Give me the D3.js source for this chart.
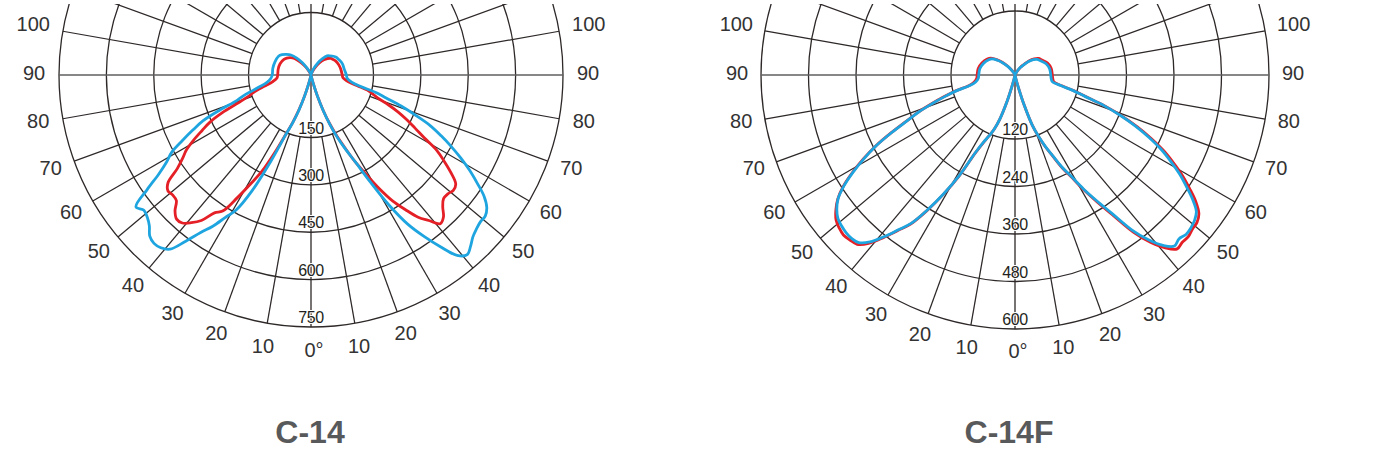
<!DOCTYPE html>
<html><head><meta charset="utf-8">
<script src="https://cdn.jsdelivr.net/npm/d3@7"></script>
<style>html,body{margin:0;padding:0;background:#fff;} svg{display:block}</style>
</head><body>
<svg id="chart" width="1400" height="454"></svg>
<script>
// Polar angles (degrees from nadir) at which the curves were read
const angles = [0,10,13,15,17,19,21,23,25,27,29,31,33,35,37,39,41,43,45,47,49,51,53,55,57,59,61,63,65,67,69,71,73,75,77,80,85,90,100,110,120,125,130,135,140,145,150,160,180];
const angleTicks = [0,10,20,30,40,50,60,70,80,90,100];
const spokeAngles = [10,20,30,40,50,60,70,80,100,110,120,130,140,150,160,170];

// C-14 (cd)
const c14Rings = [150,300,450,600,750];
const c14RedLeft   = [0,0,7,22,53,87,121,156,223,295,346,406,466,485,529,554,573,576,561,535,532,535,519,469,437,412,377,339,305,257,200,163,145,128,111,94,82,80,80,79,75,71,65,56,41,27,15,2,0];
const c14RedRight  = [0,0,7,22,53,90,126,163,207,261,311,371,428,472,516,545,576,567,542,526,526,532,526,494,456,418,362,321,286,251,213,175,156,140,114,90,77,75,73,71,68,65,62,56,48,36,24,7,0];
const c14BlueLeft  = [0,0,7,22,53,90,123,159,254,365,441,478,523,561,611,662,677,681,674,652,639,633,646,586,526,485,456,409,365,324,261,201,175,145,128,109,97,93,93,92,90,85,77,68,53,36,19,5,0];
const c14BlueRight = [0,0,7,22,53,92,128,169,213,261,339,434,516,576,633,687,706,693,677,668,662,662,649,621,579,538,494,450,406,362,305,254,201,163,121,99,87,85,81,80,76,74,70,65,60,48,34,12,0];

// C-14F (cd)
const c14fRings = [120,240,360,480,600];
const c14fRedLeft   = [0,0,8,23,56,88,109,125,146,180,251,311,367,418,450,487,522,543,548,551,547,540,525,505,476,438,397,353,303,256,220,180,145,115,88,78,72,71,70,66,60,55,45,34,22,12,6,0,0];
const c14fRedRight  = [0,0,8,23,60,100,126,156,185,222,254,298,342,392,455,502,537,559,556,557,552,550,540,516,484,452,416,380,338,294,247,198,145,115,90,74,71,70,69,65,57,54,47,38,25,18,8,0,0];
const c14fBlueLeft  = [0,0,8,23,56,88,109,125,145,178,249,309,365,416,448,484,517,537,542,542,539,534,522,504,474,436,395,352,302,254,219,178,143,113,86,75,69,68,67,63,57,53,43,32,21,11,6,0,0];
const c14fBlueRight = [0,0,8,23,60,100,125,155,183,219,251,294,337,385,448,494,529,549,544,549,547,542,532,506,474,443,408,373,332,289,244,196,143,113,88,71,68,67,66,62,54,51,45,36,24,17,8,0,0];

const titles = ["C-14", "C-14F"];

const svg = d3.select("#chart");
svg.append("defs").append("clipPath").attr("id","topclip")
  .append("rect").attr("x",0).attr("y",4).attr("width",1400).attr("height",450);

const RED = "#e41f26", BLUE = "#1ea5e0", GRID = "#2e2828";

function drawPolar(cfg) {
  const root = svg.append("g");
  const g = root.append("g").attr("clip-path","url(#topclip)")
    .append("g").attr("transform",`translate(${cfg.cx},${cfg.cy})`);
  const rings = cfg.rings;
  const r = d3.scaleLinear().domain([0, rings[0], rings[rings.length-1]]).range([0, cfg.r0, cfg.R]);
  const R = r(rings[rings.length-1]);
  const rad = a => a*Math.PI/180;

  // rings
  g.selectAll("circle.ring").data(rings).join("circle")
    .attr("r", d => r(d)).attr("fill","none").attr("stroke",GRID).attr("stroke-width",1.3);

  // spokes (both sides)
  const spokes = [];
  spokeAngles.forEach(a => { spokes.push(a); spokes.push(-a); });
  g.selectAll("line.spoke").data(spokes).join("line")
    .attr("x1", d => r(rings[0])*Math.sin(rad(d)))
    .attr("y1", d => r(rings[0])*Math.cos(rad(d)))
    .attr("x2", d => R*Math.sin(rad(d)))
    .attr("y2", d => R*Math.cos(rad(d)))
    .attr("stroke",GRID).attr("stroke-width",1.25);
  // vertical axis
  g.append("line").attr("x1",0).attr("x2",0).attr("y1",-R).attr("y2",R)
    .attr("stroke",GRID).attr("stroke-width",1.3);
  // horizontal axis
  g.append("line").attr("x1",-R).attr("x2",R).attr("y1",0).attr("y2",0)
    .attr("stroke","#5f5f5f").attr("stroke-width",1.7);

  // curves
  const line = d3.lineRadial()
    .angle(d => Math.PI - rad(d[0]))
    .radius(d => r(d[1]))
    .curve(d3.curveCatmullRom.alpha(0.5));
  function pts(left, right) {
    const p = [];
    for (let i = angles.length-1; i >= 0; i--) p.push([-angles[i], left[i]]);
    for (let i = 1; i < angles.length; i++) p.push([angles[i], right[i]]);
    const out = [];
    p.forEach(d => {
      const last = out[out.length-1];
      if (last && last[1] === 0 && d[1] === 0) return;
      out.push(d);
    });
    return out;
  }
  cfg.series.forEach(s => {
    g.append("path").datum(pts(s.left, s.right))
      .attr("d", line).attr("fill","none").attr("stroke", s.color)
      .attr("stroke-width",2.8).attr("stroke-linejoin","round").attr("stroke-linecap","round");
  });

  // ring labels
  g.selectAll("text.ringlab").data(rings).join("text")
    .attr("x",0).attr("y", d => r(d) - 4)
    .attr("text-anchor","middle")
    .attr("font-family","'Liberation Sans', Arial, sans-serif")
    .attr("font-size",16).attr("letter-spacing","-0.4")
    .attr("fill","#231f20")
    .attr("stroke","#fff").attr("stroke-width",2).attr("paint-order","stroke")
    .text(d => d);

  // angle labels
  const lab = [];
  angleTicks.forEach(a => {
    if (a === 0) lab.push({a:0, t:"0°"});
    else { lab.push({a:-a, t:String(a)}); lab.push({a:a, t:String(a)}); }
  });
  const lg = root.append("g").attr("transform",`translate(${cfg.cx},${cfg.cy})`);
  lg.selectAll("text").data(lab).join("text")
    .attr("x", d => (cfg.labR + (Math.abs(d.a) >= 100 ? 5 : 0))*Math.sin(rad(d.a)) + (d.a===0 ? 3 : 0))
    .attr("y", d => (cfg.labR + (Math.abs(d.a) >= 100 ? 5 : 0))*Math.cos(rad(d.a)) - 2)
    .attr("text-anchor","middle").attr("dominant-baseline","central")
    .attr("font-family","'Liberation Sans', Arial, sans-serif")
    .attr("font-size",20).attr("fill","#333")
    .text(d => d.t);

  // title
  root.append("text").attr("x", cfg.tx).attr("y", 443)
    .attr("text-anchor","middle")
    .attr("font-family","'Liberation Sans', Arial, sans-serif")
    .attr("font-weight","bold").attr("font-size",32).attr("fill","#58595b")
    .text(cfg.title);
}

drawPolar({cx:311, cy:75, r0:62.5, R:252, labR:277, rings:c14Rings, title:titles[0], tx:310,
  series:[{color:RED,left:c14RedLeft,right:c14RedRight},{color:BLUE,left:c14BlueLeft,right:c14BlueRight}]});
drawPolar({cx:1015, cy:75, r0:64, R:254, labR:278, rings:c14fRings, title:titles[1], tx:1009,
  series:[{color:RED,left:c14fRedLeft,right:c14fRedRight},{color:BLUE,left:c14fBlueLeft,right:c14fBlueRight}]});
</script>
</body></html>
